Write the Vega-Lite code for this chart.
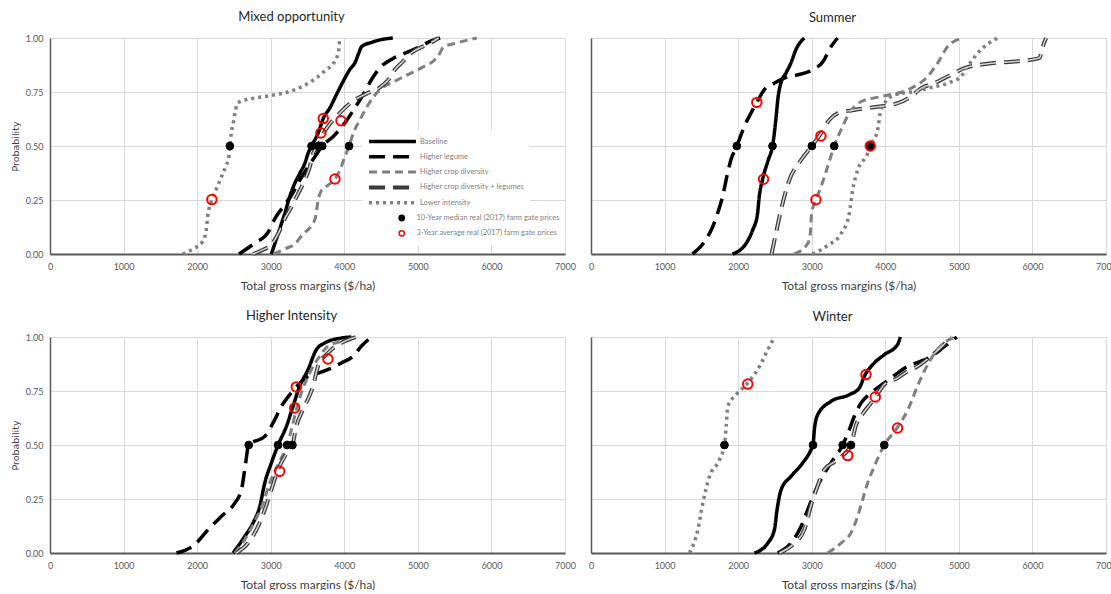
{
  "$schema": "https://vega.github.io/schema/vega-lite/v6.json",
  "background": "white",
  "padding": {"left": 10, "top": 11, "right": 0, "bottom": 0},
  "datasets": {
    "rows": [
      {"system":"Mixed opportunity","kind":"curve","series":"Baseline","gm":3009,"p":0},
      {"system":"Mixed opportunity","kind":"curve","series":"Baseline","gm":3055,"p":0.047},
      {"system":"Mixed opportunity","kind":"curve","series":"Baseline","gm":3100,"p":0.093},
      {"system":"Mixed opportunity","kind":"curve","series":"Baseline","gm":3145,"p":0.14},
      {"system":"Mixed opportunity","kind":"curve","series":"Baseline","gm":3191,"p":0.187},
      {"system":"Mixed opportunity","kind":"curve","series":"Baseline","gm":3236,"p":0.24},
      {"system":"Mixed opportunity","kind":"curve","series":"Baseline","gm":3273,"p":0.28},
      {"system":"Mixed opportunity","kind":"curve","series":"Baseline","gm":3327,"p":0.327},
      {"system":"Mixed opportunity","kind":"curve","series":"Baseline","gm":3395,"p":0.373},
      {"system":"Mixed opportunity","kind":"curve","series":"Baseline","gm":3464,"p":0.42},
      {"system":"Mixed opportunity","kind":"curve","series":"Baseline","gm":3509,"p":0.467},
      {"system":"Mixed opportunity","kind":"curve","series":"Baseline","gm":3555,"p":0.5},
      {"system":"Mixed opportunity","kind":"curve","series":"Baseline","gm":3645,"p":0.56},
      {"system":"Mixed opportunity","kind":"curve","series":"Baseline","gm":3714,"p":0.627},
      {"system":"Mixed opportunity","kind":"curve","series":"Baseline","gm":3805,"p":0.677},
      {"system":"Mixed opportunity","kind":"curve","series":"Baseline","gm":3895,"p":0.739},
      {"system":"Mixed opportunity","kind":"curve","series":"Baseline","gm":3986,"p":0.8},
      {"system":"Mixed opportunity","kind":"curve","series":"Baseline","gm":4077,"p":0.855},
      {"system":"Mixed opportunity","kind":"curve","series":"Baseline","gm":4145,"p":0.886},
      {"system":"Mixed opportunity","kind":"curve","series":"Baseline","gm":4191,"p":0.925},
      {"system":"Mixed opportunity","kind":"curve","series":"Baseline","gm":4236,"p":0.96},
      {"system":"Mixed opportunity","kind":"curve","series":"Baseline","gm":4373,"p":0.98},
      {"system":"Mixed opportunity","kind":"curve","series":"Baseline","gm":4509,"p":0.993},
      {"system":"Mixed opportunity","kind":"curve","series":"Baseline","gm":4660,"p":1},
      {"system":"Mixed opportunity","kind":"curve","series":"Higher legume","gm":2570,"p":0},
      {"system":"Mixed opportunity","kind":"curve","series":"Higher legume","gm":2782,"p":0.05},
      {"system":"Mixed opportunity","kind":"curve","series":"Higher legume","gm":2964,"p":0.1},
      {"system":"Mixed opportunity","kind":"curve","series":"Higher legume","gm":3055,"p":0.163},
      {"system":"Mixed opportunity","kind":"curve","series":"Higher legume","gm":3168,"p":0.218},
      {"system":"Mixed opportunity","kind":"curve","series":"Higher legume","gm":3282,"p":0.272},
      {"system":"Mixed opportunity","kind":"curve","series":"Higher legume","gm":3395,"p":0.342},
      {"system":"Mixed opportunity","kind":"curve","series":"Higher legume","gm":3509,"p":0.404},
      {"system":"Mixed opportunity","kind":"curve","series":"Higher legume","gm":3600,"p":0.45},
      {"system":"Mixed opportunity","kind":"curve","series":"Higher legume","gm":3700,"p":0.5},
      {"system":"Mixed opportunity","kind":"curve","series":"Higher legume","gm":3850,"p":0.544},
      {"system":"Mixed opportunity","kind":"curve","series":"Higher legume","gm":4009,"p":0.607},
      {"system":"Mixed opportunity","kind":"curve","series":"Higher legume","gm":4145,"p":0.677},
      {"system":"Mixed opportunity","kind":"curve","series":"Higher legume","gm":4259,"p":0.739},
      {"system":"Mixed opportunity","kind":"curve","series":"Higher legume","gm":4373,"p":0.809},
      {"system":"Mixed opportunity","kind":"curve","series":"Higher legume","gm":4486,"p":0.863},
      {"system":"Mixed opportunity","kind":"curve","series":"Higher legume","gm":4645,"p":0.902},
      {"system":"Mixed opportunity","kind":"curve","series":"Higher legume","gm":4827,"p":0.93},
      {"system":"Mixed opportunity","kind":"curve","series":"Higher legume","gm":5009,"p":0.956},
      {"system":"Mixed opportunity","kind":"curve","series":"Higher legume","gm":5191,"p":0.988},
      {"system":"Mixed opportunity","kind":"curve","series":"Higher legume","gm":5310,"p":1},
      {"system":"Mixed opportunity","kind":"curve","series":"Higher crop diversity","gm":3040,"p":0},
      {"system":"Mixed opportunity","kind":"curve","series":"Higher crop diversity","gm":3191,"p":0.023},
      {"system":"Mixed opportunity","kind":"curve","series":"Higher crop diversity","gm":3327,"p":0.047},
      {"system":"Mixed opportunity","kind":"curve","series":"Higher crop diversity","gm":3441,"p":0.093},
      {"system":"Mixed opportunity","kind":"curve","series":"Higher crop diversity","gm":3555,"p":0.132},
      {"system":"Mixed opportunity","kind":"curve","series":"Higher crop diversity","gm":3609,"p":0.171},
      {"system":"Mixed opportunity","kind":"curve","series":"Higher crop diversity","gm":3645,"p":0.249},
      {"system":"Mixed opportunity","kind":"curve","series":"Higher crop diversity","gm":3691,"p":0.295},
      {"system":"Mixed opportunity","kind":"curve","series":"Higher crop diversity","gm":3782,"p":0.319},
      {"system":"Mixed opportunity","kind":"curve","series":"Higher crop diversity","gm":3873,"p":0.347},
      {"system":"Mixed opportunity","kind":"curve","series":"Higher crop diversity","gm":3941,"p":0.389},
      {"system":"Mixed opportunity","kind":"curve","series":"Higher crop diversity","gm":4009,"p":0.451},
      {"system":"Mixed opportunity","kind":"curve","series":"Higher crop diversity","gm":4065,"p":0.5},
      {"system":"Mixed opportunity","kind":"curve","series":"Higher crop diversity","gm":4123,"p":0.56},
      {"system":"Mixed opportunity","kind":"curve","series":"Higher crop diversity","gm":4214,"p":0.622},
      {"system":"Mixed opportunity","kind":"curve","series":"Higher crop diversity","gm":4327,"p":0.692},
      {"system":"Mixed opportunity","kind":"curve","series":"Higher crop diversity","gm":4486,"p":0.762},
      {"system":"Mixed opportunity","kind":"curve","series":"Higher crop diversity","gm":4645,"p":0.793},
      {"system":"Mixed opportunity","kind":"curve","series":"Higher crop diversity","gm":4827,"p":0.824},
      {"system":"Mixed opportunity","kind":"curve","series":"Higher crop diversity","gm":5055,"p":0.863},
      {"system":"Mixed opportunity","kind":"curve","series":"Higher crop diversity","gm":5236,"p":0.902},
      {"system":"Mixed opportunity","kind":"curve","series":"Higher crop diversity","gm":5300,"p":0.93},
      {"system":"Mixed opportunity","kind":"curve","series":"Higher crop diversity","gm":5345,"p":0.957},
      {"system":"Mixed opportunity","kind":"curve","series":"Higher crop diversity","gm":5509,"p":0.975},
      {"system":"Mixed opportunity","kind":"curve","series":"Higher crop diversity","gm":5800,"p":1},
      {"system":"Mixed opportunity","kind":"curve","series":"Higher crop diversity + legumes","gm":2760,"p":0},
      {"system":"Mixed opportunity","kind":"curve","series":"Higher crop diversity + legumes","gm":2891,"p":0.019},
      {"system":"Mixed opportunity","kind":"curve","series":"Higher crop diversity + legumes","gm":3009,"p":0.044},
      {"system":"Mixed opportunity","kind":"curve","series":"Higher crop diversity + legumes","gm":3100,"p":0.093},
      {"system":"Mixed opportunity","kind":"curve","series":"Higher crop diversity + legumes","gm":3191,"p":0.163},
      {"system":"Mixed opportunity","kind":"curve","series":"Higher crop diversity + legumes","gm":3282,"p":0.218},
      {"system":"Mixed opportunity","kind":"curve","series":"Higher crop diversity + legumes","gm":3373,"p":0.28},
      {"system":"Mixed opportunity","kind":"curve","series":"Higher crop diversity + legumes","gm":3464,"p":0.342},
      {"system":"Mixed opportunity","kind":"curve","series":"Higher crop diversity + legumes","gm":3532,"p":0.404},
      {"system":"Mixed opportunity","kind":"curve","series":"Higher crop diversity + legumes","gm":3577,"p":0.467},
      {"system":"Mixed opportunity","kind":"curve","series":"Higher crop diversity + legumes","gm":3645,"p":0.5},
      {"system":"Mixed opportunity","kind":"curve","series":"Higher crop diversity + legumes","gm":3720,"p":0.56},
      {"system":"Mixed opportunity","kind":"curve","series":"Higher crop diversity + legumes","gm":3800,"p":0.6},
      {"system":"Mixed opportunity","kind":"curve","series":"Higher crop diversity + legumes","gm":3918,"p":0.645},
      {"system":"Mixed opportunity","kind":"curve","series":"Higher crop diversity + legumes","gm":4118,"p":0.708},
      {"system":"Mixed opportunity","kind":"curve","series":"Higher crop diversity + legumes","gm":4282,"p":0.739},
      {"system":"Mixed opportunity","kind":"curve","series":"Higher crop diversity + legumes","gm":4509,"p":0.778},
      {"system":"Mixed opportunity","kind":"curve","series":"Higher crop diversity + legumes","gm":4623,"p":0.817},
      {"system":"Mixed opportunity","kind":"curve","series":"Higher crop diversity + legumes","gm":4680,"p":0.85},
      {"system":"Mixed opportunity","kind":"curve","series":"Higher crop diversity + legumes","gm":4782,"p":0.886},
      {"system":"Mixed opportunity","kind":"curve","series":"Higher crop diversity + legumes","gm":4918,"p":0.933},
      {"system":"Mixed opportunity","kind":"curve","series":"Higher crop diversity + legumes","gm":5145,"p":0.972},
      {"system":"Mixed opportunity","kind":"curve","series":"Higher crop diversity + legumes","gm":5282,"p":1},
      {"system":"Mixed opportunity","kind":"curve","series":"Lower intensity","gm":1805,"p":0},
      {"system":"Mixed opportunity","kind":"curve","series":"Lower intensity","gm":1941,"p":0.023},
      {"system":"Mixed opportunity","kind":"curve","series":"Lower intensity","gm":2077,"p":0.059},
      {"system":"Mixed opportunity","kind":"curve","series":"Lower intensity","gm":2123,"p":0.109},
      {"system":"Mixed opportunity","kind":"curve","series":"Lower intensity","gm":2145,"p":0.179},
      {"system":"Mixed opportunity","kind":"curve","series":"Lower intensity","gm":2182,"p":0.233},
      {"system":"Mixed opportunity","kind":"curve","series":"Lower intensity","gm":2200,"p":0.25},
      {"system":"Mixed opportunity","kind":"curve","series":"Lower intensity","gm":2259,"p":0.299},
      {"system":"Mixed opportunity","kind":"curve","series":"Lower intensity","gm":2327,"p":0.355},
      {"system":"Mixed opportunity","kind":"curve","series":"Lower intensity","gm":2386,"p":0.404},
      {"system":"Mixed opportunity","kind":"curve","series":"Lower intensity","gm":2432,"p":0.451},
      {"system":"Mixed opportunity","kind":"curve","series":"Lower intensity","gm":2445,"p":0.5},
      {"system":"Mixed opportunity","kind":"curve","series":"Lower intensity","gm":2464,"p":0.56},
      {"system":"Mixed opportunity","kind":"curve","series":"Lower intensity","gm":2495,"p":0.614},
      {"system":"Mixed opportunity","kind":"curve","series":"Lower intensity","gm":2523,"p":0.669},
      {"system":"Mixed opportunity","kind":"curve","series":"Lower intensity","gm":2555,"p":0.7},
      {"system":"Mixed opportunity","kind":"curve","series":"Lower intensity","gm":2782,"p":0.722},
      {"system":"Mixed opportunity","kind":"curve","series":"Lower intensity","gm":3009,"p":0.734},
      {"system":"Mixed opportunity","kind":"curve","series":"Lower intensity","gm":3236,"p":0.75},
      {"system":"Mixed opportunity","kind":"curve","series":"Lower intensity","gm":3395,"p":0.77},
      {"system":"Mixed opportunity","kind":"curve","series":"Lower intensity","gm":3555,"p":0.8},
      {"system":"Mixed opportunity","kind":"curve","series":"Lower intensity","gm":3736,"p":0.848},
      {"system":"Mixed opportunity","kind":"curve","series":"Lower intensity","gm":3873,"p":0.894},
      {"system":"Mixed opportunity","kind":"curve","series":"Lower intensity","gm":3918,"p":0.933},
      {"system":"Mixed opportunity","kind":"curve","series":"Lower intensity","gm":3932,"p":0.972},
      {"system":"Mixed opportunity","kind":"curve","series":"Lower intensity","gm":3935,"p":1},
      {"system":"Mixed opportunity","kind":"median","series":"Baseline","gm":3555,"p":0.5},
      {"system":"Mixed opportunity","kind":"median","series":"Higher legume","gm":3700,"p":0.5},
      {"system":"Mixed opportunity","kind":"median","series":"Higher crop diversity","gm":4065,"p":0.5},
      {"system":"Mixed opportunity","kind":"median","series":"Higher crop diversity + legumes","gm":3645,"p":0.5},
      {"system":"Mixed opportunity","kind":"median","series":"Lower intensity","gm":2445,"p":0.5},
      {"system":"Mixed opportunity","kind":"average","series":"Baseline","gm":3714,"p":0.627},
      {"system":"Mixed opportunity","kind":"average","series":"Higher legume","gm":3955,"p":0.617},
      {"system":"Mixed opportunity","kind":"average","series":"Higher crop diversity","gm":3873,"p":0.347},
      {"system":"Mixed opportunity","kind":"average","series":"Higher crop diversity + legumes","gm":3682,"p":0.56},
      {"system":"Mixed opportunity","kind":"average","series":"Lower intensity","gm":2200,"p":0.252},

      {"system":"Summer","kind":"curve","series":"Higher legume","gm":1379,"p":0},
      {"system":"Summer","kind":"curve","series":"Higher legume","gm":1537,"p":0.054},
      {"system":"Summer","kind":"curve","series":"Higher legume","gm":1651,"p":0.124},
      {"system":"Summer","kind":"curve","series":"Higher legume","gm":1719,"p":0.186},
      {"system":"Summer","kind":"curve","series":"Higher legume","gm":1787,"p":0.264},
      {"system":"Summer","kind":"curve","series":"Higher legume","gm":1855,"p":0.372},
      {"system":"Summer","kind":"curve","series":"Higher legume","gm":1900,"p":0.434},
      {"system":"Summer","kind":"curve","series":"Higher legume","gm":1982,"p":0.5},
      {"system":"Summer","kind":"curve","series":"Higher legume","gm":2082,"p":0.589},
      {"system":"Summer","kind":"curve","series":"Higher legume","gm":2172,"p":0.651},
      {"system":"Summer","kind":"curve","series":"Higher legume","gm":2254,"p":0.702},
      {"system":"Summer","kind":"curve","series":"Higher legume","gm":2354,"p":0.76},
      {"system":"Summer","kind":"curve","series":"Higher legume","gm":2490,"p":0.791},
      {"system":"Summer","kind":"curve","series":"Higher legume","gm":2626,"p":0.814},
      {"system":"Summer","kind":"curve","series":"Higher legume","gm":2898,"p":0.837},
      {"system":"Summer","kind":"curve","series":"Higher legume","gm":3034,"p":0.856},
      {"system":"Summer","kind":"curve","series":"Higher legume","gm":3170,"p":0.899},
      {"system":"Summer","kind":"curve","series":"Higher legume","gm":3238,"p":0.946},
      {"system":"Summer","kind":"curve","series":"Higher legume","gm":3351,"p":1},
      {"system":"Summer","kind":"curve","series":"Baseline","gm":1923,"p":0},
      {"system":"Summer","kind":"curve","series":"Baseline","gm":2104,"p":0.047},
      {"system":"Summer","kind":"curve","series":"Baseline","gm":2195,"p":0.109},
      {"system":"Summer","kind":"curve","series":"Baseline","gm":2263,"p":0.186},
      {"system":"Summer","kind":"curve","series":"Baseline","gm":2286,"p":0.264},
      {"system":"Summer","kind":"curve","series":"Baseline","gm":2331,"p":0.344},
      {"system":"Summer","kind":"curve","series":"Baseline","gm":2408,"p":0.434},
      {"system":"Summer","kind":"curve","series":"Baseline","gm":2467,"p":0.5},
      {"system":"Summer","kind":"curve","series":"Baseline","gm":2512,"p":0.62},
      {"system":"Summer","kind":"curve","series":"Baseline","gm":2544,"p":0.729},
      {"system":"Summer","kind":"curve","series":"Baseline","gm":2580,"p":0.791},
      {"system":"Summer","kind":"curve","series":"Baseline","gm":2649,"p":0.837},
      {"system":"Summer","kind":"curve","series":"Baseline","gm":2717,"p":0.884},
      {"system":"Summer","kind":"curve","series":"Baseline","gm":2785,"p":0.946},
      {"system":"Summer","kind":"curve","series":"Baseline","gm":2898,"p":1},
      {"system":"Summer","kind":"curve","series":"Higher crop diversity + legumes","gm":2454,"p":0},
      {"system":"Summer","kind":"curve","series":"Higher crop diversity + legumes","gm":2512,"p":0.093},
      {"system":"Summer","kind":"curve","series":"Higher crop diversity + legumes","gm":2580,"p":0.2},
      {"system":"Summer","kind":"curve","series":"Higher crop diversity + legumes","gm":2694,"p":0.341},
      {"system":"Summer","kind":"curve","series":"Higher crop diversity + legumes","gm":2853,"p":0.434},
      {"system":"Summer","kind":"curve","series":"Higher crop diversity + legumes","gm":3002,"p":0.5},
      {"system":"Summer","kind":"curve","series":"Higher crop diversity + legumes","gm":3125,"p":0.558},
      {"system":"Summer","kind":"curve","series":"Higher crop diversity + legumes","gm":3238,"p":0.62},
      {"system":"Summer","kind":"curve","series":"Higher crop diversity + legumes","gm":3351,"p":0.651},
      {"system":"Summer","kind":"curve","series":"Higher crop diversity + legumes","gm":3578,"p":0.667},
      {"system":"Summer","kind":"curve","series":"Higher crop diversity + legumes","gm":3896,"p":0.682},
      {"system":"Summer","kind":"curve","series":"Higher crop diversity + legumes","gm":4168,"p":0.698},
      {"system":"Summer","kind":"curve","series":"Higher crop diversity + legumes","gm":4349,"p":0.729},
      {"system":"Summer","kind":"curve","series":"Higher crop diversity + legumes","gm":4485,"p":0.767},
      {"system":"Summer","kind":"curve","series":"Higher crop diversity + legumes","gm":4667,"p":0.791},
      {"system":"Summer","kind":"curve","series":"Higher crop diversity + legumes","gm":4848,"p":0.822},
      {"system":"Summer","kind":"curve","series":"Higher crop diversity + legumes","gm":5075,"p":0.86},
      {"system":"Summer","kind":"curve","series":"Higher crop diversity + legumes","gm":5392,"p":0.881},
      {"system":"Summer","kind":"curve","series":"Higher crop diversity + legumes","gm":5755,"p":0.891},
      {"system":"Summer","kind":"curve","series":"Higher crop diversity + legumes","gm":6095,"p":0.907},
      {"system":"Summer","kind":"curve","series":"Higher crop diversity + legumes","gm":6141,"p":0.961},
      {"system":"Summer","kind":"curve","series":"Higher crop diversity + legumes","gm":6186,"p":1},
      {"system":"Summer","kind":"curve","series":"Higher crop diversity","gm":2762,"p":0},
      {"system":"Summer","kind":"curve","series":"Higher crop diversity","gm":2943,"p":0.047},
      {"system":"Summer","kind":"curve","series":"Higher crop diversity","gm":2980,"p":0.093},
      {"system":"Summer","kind":"curve","series":"Higher crop diversity","gm":2998,"p":0.186},
      {"system":"Summer","kind":"curve","series":"Higher crop diversity","gm":3057,"p":0.25},
      {"system":"Summer","kind":"curve","series":"Higher crop diversity","gm":3125,"p":0.31},
      {"system":"Summer","kind":"curve","series":"Higher crop diversity","gm":3215,"p":0.403},
      {"system":"Summer","kind":"curve","series":"Higher crop diversity","gm":3306,"p":0.5},
      {"system":"Summer","kind":"curve","series":"Higher crop diversity","gm":3397,"p":0.574},
      {"system":"Summer","kind":"curve","series":"Higher crop diversity","gm":3510,"p":0.651},
      {"system":"Summer","kind":"curve","series":"Higher crop diversity","gm":3669,"p":0.705},
      {"system":"Summer","kind":"curve","series":"Higher crop diversity","gm":3941,"p":0.729},
      {"system":"Summer","kind":"curve","series":"Higher crop diversity","gm":4304,"p":0.76},
      {"system":"Summer","kind":"curve","series":"Higher crop diversity","gm":4576,"p":0.822},
      {"system":"Summer","kind":"curve","series":"Higher crop diversity","gm":4712,"p":0.884},
      {"system":"Summer","kind":"curve","series":"Higher crop diversity","gm":4848,"p":0.961},
      {"system":"Summer","kind":"curve","series":"Higher crop diversity","gm":5052,"p":1},
      {"system":"Summer","kind":"curve","series":"Lower intensity","gm":3011,"p":0},
      {"system":"Summer","kind":"curve","series":"Lower intensity","gm":3215,"p":0.039},
      {"system":"Summer","kind":"curve","series":"Lower intensity","gm":3397,"p":0.093},
      {"system":"Summer","kind":"curve","series":"Lower intensity","gm":3510,"p":0.186},
      {"system":"Summer","kind":"curve","series":"Lower intensity","gm":3556,"p":0.295},
      {"system":"Summer","kind":"curve","series":"Lower intensity","gm":3624,"p":0.388},
      {"system":"Summer","kind":"curve","series":"Lower intensity","gm":3760,"p":0.465},
      {"system":"Summer","kind":"curve","series":"Lower intensity","gm":3796,"p":0.5},
      {"system":"Summer","kind":"curve","series":"Lower intensity","gm":3896,"p":0.574},
      {"system":"Summer","kind":"curve","series":"Lower intensity","gm":3941,"p":0.667},
      {"system":"Summer","kind":"curve","series":"Lower intensity","gm":4122,"p":0.736},
      {"system":"Summer","kind":"curve","series":"Lower intensity","gm":4395,"p":0.752},
      {"system":"Summer","kind":"curve","series":"Lower intensity","gm":4576,"p":0.767},
      {"system":"Summer","kind":"curve","series":"Lower intensity","gm":4848,"p":0.791},
      {"system":"Summer","kind":"curve","series":"Lower intensity","gm":5029,"p":0.822},
      {"system":"Summer","kind":"curve","series":"Lower intensity","gm":5120,"p":0.868},
      {"system":"Summer","kind":"curve","series":"Lower intensity","gm":5256,"p":0.93},
      {"system":"Summer","kind":"curve","series":"Lower intensity","gm":5528,"p":1},
      {"system":"Summer","kind":"median","series":"Higher legume","gm":1982,"p":0.5},
      {"system":"Summer","kind":"median","series":"Baseline","gm":2467,"p":0.5},
      {"system":"Summer","kind":"median","series":"Higher crop diversity + legumes","gm":3002,"p":0.5},
      {"system":"Summer","kind":"median","series":"Higher crop diversity","gm":3306,"p":0.5},
      {"system":"Summer","kind":"median","series":"Lower intensity","gm":3796,"p":0.5},
      {"system":"Summer","kind":"average","series":"Higher legume","gm":2254,"p":0.702},
      {"system":"Summer","kind":"average","series":"Baseline","gm":2345,"p":0.346},
      {"system":"Summer","kind":"average","series":"Higher crop diversity + legumes","gm":3125,"p":0.546},
      {"system":"Summer","kind":"average","series":"Higher crop diversity","gm":3057,"p":0.251},
      {"system":"Summer","kind":"average","series":"Lower intensity","gm":3796,"p":0.5},

      {"system":"Higher Intensity","kind":"curve","series":"Higher legume","gm":1719,"p":0},
      {"system":"Higher Intensity","kind":"curve","series":"Higher legume","gm":1968,"p":0.039},
      {"system":"Higher Intensity","kind":"curve","series":"Higher legume","gm":2149,"p":0.108},
      {"system":"Higher Intensity","kind":"curve","series":"Higher legume","gm":2330,"p":0.17},
      {"system":"Higher Intensity","kind":"curve","series":"Higher legume","gm":2511,"p":0.231},
      {"system":"Higher Intensity","kind":"curve","series":"Higher legume","gm":2602,"p":0.293},
      {"system":"Higher Intensity","kind":"curve","series":"Higher legume","gm":2647,"p":0.386},
      {"system":"Higher Intensity","kind":"curve","series":"Higher legume","gm":2701,"p":0.5},
      {"system":"Higher Intensity","kind":"curve","series":"Higher legume","gm":2919,"p":0.54},
      {"system":"Higher Intensity","kind":"curve","series":"Higher legume","gm":3032,"p":0.602},
      {"system":"Higher Intensity","kind":"curve","series":"Higher legume","gm":3145,"p":0.679},
      {"system":"Higher Intensity","kind":"curve","series":"Higher legume","gm":3258,"p":0.733},
      {"system":"Higher Intensity","kind":"curve","series":"Higher legume","gm":3348,"p":0.769},
      {"system":"Higher Intensity","kind":"curve","series":"Higher legume","gm":3507,"p":0.818},
      {"system":"Higher Intensity","kind":"curve","series":"Higher legume","gm":3643,"p":0.833},
      {"system":"Higher Intensity","kind":"curve","series":"Higher legume","gm":3824,"p":0.856},
      {"system":"Higher Intensity","kind":"curve","series":"Higher legume","gm":3959,"p":0.88},
      {"system":"Higher Intensity","kind":"curve","series":"Higher legume","gm":4118,"p":0.91},
      {"system":"Higher Intensity","kind":"curve","series":"Higher legume","gm":4231,"p":0.957},
      {"system":"Higher Intensity","kind":"curve","series":"Higher legume","gm":4367,"p":1},
      {"system":"Higher Intensity","kind":"curve","series":"Baseline","gm":2489,"p":0},
      {"system":"Higher Intensity","kind":"curve","series":"Baseline","gm":2647,"p":0.077},
      {"system":"Higher Intensity","kind":"curve","series":"Baseline","gm":2760,"p":0.139},
      {"system":"Higher Intensity","kind":"curve","series":"Baseline","gm":2851,"p":0.216},
      {"system":"Higher Intensity","kind":"curve","series":"Baseline","gm":2919,"p":0.324},
      {"system":"Higher Intensity","kind":"curve","series":"Baseline","gm":3009,"p":0.417},
      {"system":"Higher Intensity","kind":"curve","series":"Baseline","gm":3100,"p":0.5},
      {"system":"Higher Intensity","kind":"curve","series":"Baseline","gm":3213,"p":0.586},
      {"system":"Higher Intensity","kind":"curve","series":"Baseline","gm":3303,"p":0.679},
      {"system":"Higher Intensity","kind":"curve","series":"Baseline","gm":3394,"p":0.772},
      {"system":"Higher Intensity","kind":"curve","series":"Baseline","gm":3507,"p":0.849},
      {"system":"Higher Intensity","kind":"curve","series":"Baseline","gm":3620,"p":0.941},
      {"system":"Higher Intensity","kind":"curve","series":"Baseline","gm":3733,"p":0.972},
      {"system":"Higher Intensity","kind":"curve","series":"Baseline","gm":3959,"p":0.995},
      {"system":"Higher Intensity","kind":"curve","series":"Baseline","gm":4095,"p":1},
      {"system":"Higher Intensity","kind":"curve","series":"Higher crop diversity","gm":2511,"p":0},
      {"system":"Higher Intensity","kind":"curve","series":"Higher crop diversity","gm":2647,"p":0.062},
      {"system":"Higher Intensity","kind":"curve","series":"Higher crop diversity","gm":2783,"p":0.147},
      {"system":"Higher Intensity","kind":"curve","series":"Higher crop diversity","gm":2896,"p":0.231},
      {"system":"Higher Intensity","kind":"curve","series":"Higher crop diversity","gm":2986,"p":0.324},
      {"system":"Higher Intensity","kind":"curve","series":"Higher crop diversity","gm":3110,"p":0.417},
      {"system":"Higher Intensity","kind":"curve","series":"Higher crop diversity","gm":3223,"p":0.5},
      {"system":"Higher Intensity","kind":"curve","series":"Higher crop diversity","gm":3281,"p":0.571},
      {"system":"Higher Intensity","kind":"curve","series":"Higher crop diversity","gm":3348,"p":0.664},
      {"system":"Higher Intensity","kind":"curve","series":"Higher crop diversity","gm":3416,"p":0.741},
      {"system":"Higher Intensity","kind":"curve","series":"Higher crop diversity","gm":3529,"p":0.833},
      {"system":"Higher Intensity","kind":"curve","series":"Higher crop diversity","gm":3665,"p":0.91},
      {"system":"Higher Intensity","kind":"curve","series":"Higher crop diversity","gm":3778,"p":0.957},
      {"system":"Higher Intensity","kind":"curve","series":"Higher crop diversity","gm":4050,"p":0.988},
      {"system":"Higher Intensity","kind":"curve","series":"Higher crop diversity","gm":4140,"p":1},
      {"system":"Higher Intensity","kind":"curve","series":"Higher crop diversity + legumes","gm":2534,"p":0},
      {"system":"Higher Intensity","kind":"curve","series":"Higher crop diversity + legumes","gm":2692,"p":0.046},
      {"system":"Higher Intensity","kind":"curve","series":"Higher crop diversity + legumes","gm":2828,"p":0.123},
      {"system":"Higher Intensity","kind":"curve","series":"Higher crop diversity + legumes","gm":2919,"p":0.2},
      {"system":"Higher Intensity","kind":"curve","series":"Higher crop diversity + legumes","gm":3009,"p":0.293},
      {"system":"Higher Intensity","kind":"curve","series":"Higher crop diversity + legumes","gm":3100,"p":0.386},
      {"system":"Higher Intensity","kind":"curve","series":"Higher crop diversity + legumes","gm":3213,"p":0.46},
      {"system":"Higher Intensity","kind":"curve","series":"Higher crop diversity + legumes","gm":3295,"p":0.5},
      {"system":"Higher Intensity","kind":"curve","series":"Higher crop diversity + legumes","gm":3348,"p":0.586},
      {"system":"Higher Intensity","kind":"curve","series":"Higher crop diversity + legumes","gm":3439,"p":0.664},
      {"system":"Higher Intensity","kind":"curve","series":"Higher crop diversity + legumes","gm":3575,"p":0.772},
      {"system":"Higher Intensity","kind":"curve","series":"Higher crop diversity + legumes","gm":3643,"p":0.864},
      {"system":"Higher Intensity","kind":"curve","series":"Higher crop diversity + legumes","gm":3778,"p":0.926},
      {"system":"Higher Intensity","kind":"curve","series":"Higher crop diversity + legumes","gm":3959,"p":0.972},
      {"system":"Higher Intensity","kind":"curve","series":"Higher crop diversity + legumes","gm":4160,"p":1},
      {"system":"Higher Intensity","kind":"median","series":"Higher legume","gm":2701,"p":0.5},
      {"system":"Higher Intensity","kind":"median","series":"Baseline","gm":3100,"p":0.5},
      {"system":"Higher Intensity","kind":"median","series":"Higher crop diversity","gm":3223,"p":0.5},
      {"system":"Higher Intensity","kind":"median","series":"Higher crop diversity + legumes","gm":3295,"p":0.5},
      {"system":"Higher Intensity","kind":"average","series":"Higher legume","gm":3348,"p":0.769},
      {"system":"Higher Intensity","kind":"average","series":"Baseline","gm":3326,"p":0.671},
      {"system":"Higher Intensity","kind":"average","series":"Higher crop diversity","gm":3122,"p":0.378},
      {"system":"Higher Intensity","kind":"average","series":"Higher crop diversity + legumes","gm":3778,"p":0.898},

      {"system":"Winter","kind":"curve","series":"Lower intensity","gm":1339,"p":0},
      {"system":"Winter","kind":"curve","series":"Lower intensity","gm":1452,"p":0.108},
      {"system":"Winter","kind":"curve","series":"Lower intensity","gm":1520,"p":0.231},
      {"system":"Winter","kind":"curve","series":"Lower intensity","gm":1611,"p":0.355},
      {"system":"Winter","kind":"curve","series":"Lower intensity","gm":1747,"p":0.432},
      {"system":"Winter","kind":"curve","series":"Lower intensity","gm":1814,"p":0.5},
      {"system":"Winter","kind":"curve","series":"Lower intensity","gm":1837,"p":0.586},
      {"system":"Winter","kind":"curve","series":"Lower intensity","gm":1860,"p":0.679},
      {"system":"Winter","kind":"curve","series":"Lower intensity","gm":1973,"p":0.733},
      {"system":"Winter","kind":"curve","series":"Lower intensity","gm":2131,"p":0.787},
      {"system":"Winter","kind":"curve","series":"Lower intensity","gm":2290,"p":0.864},
      {"system":"Winter","kind":"curve","series":"Lower intensity","gm":2403,"p":0.941},
      {"system":"Winter","kind":"curve","series":"Lower intensity","gm":2493,"p":1},
      {"system":"Winter","kind":"curve","series":"Baseline","gm":2222,"p":0},
      {"system":"Winter","kind":"curve","series":"Baseline","gm":2403,"p":0.046},
      {"system":"Winter","kind":"curve","series":"Baseline","gm":2493,"p":0.108},
      {"system":"Winter","kind":"curve","series":"Baseline","gm":2529,"p":0.2},
      {"system":"Winter","kind":"curve","series":"Baseline","gm":2584,"p":0.293},
      {"system":"Winter","kind":"curve","series":"Baseline","gm":2719,"p":0.355},
      {"system":"Winter","kind":"curve","series":"Baseline","gm":2878,"p":0.417},
      {"system":"Winter","kind":"curve","series":"Baseline","gm":2991,"p":0.478},
      {"system":"Winter","kind":"curve","series":"Baseline","gm":3018,"p":0.5},
      {"system":"Winter","kind":"curve","series":"Baseline","gm":3036,"p":0.571},
      {"system":"Winter","kind":"curve","series":"Baseline","gm":3081,"p":0.64},
      {"system":"Winter","kind":"curve","series":"Baseline","gm":3262,"p":0.702},
      {"system":"Winter","kind":"curve","series":"Baseline","gm":3511,"p":0.733},
      {"system":"Winter","kind":"curve","series":"Baseline","gm":3647,"p":0.764},
      {"system":"Winter","kind":"curve","series":"Baseline","gm":3715,"p":0.818},
      {"system":"Winter","kind":"curve","series":"Baseline","gm":3851,"p":0.88},
      {"system":"Winter","kind":"curve","series":"Baseline","gm":3986,"p":0.918},
      {"system":"Winter","kind":"curve","series":"Baseline","gm":4167,"p":0.965},
      {"system":"Winter","kind":"curve","series":"Baseline","gm":4204,"p":1},
      {"system":"Winter","kind":"curve","series":"Higher legume","gm":2538,"p":0},
      {"system":"Winter","kind":"curve","series":"Higher legume","gm":2719,"p":0.046},
      {"system":"Winter","kind":"curve","series":"Higher legume","gm":2855,"p":0.123},
      {"system":"Winter","kind":"curve","series":"Higher legume","gm":2946,"p":0.2},
      {"system":"Winter","kind":"curve","series":"Higher legume","gm":3036,"p":0.278},
      {"system":"Winter","kind":"curve","series":"Higher legume","gm":3149,"p":0.355},
      {"system":"Winter","kind":"curve","series":"Higher legume","gm":3262,"p":0.417},
      {"system":"Winter","kind":"curve","series":"Higher legume","gm":3421,"p":0.5},
      {"system":"Winter","kind":"curve","series":"Higher legume","gm":3511,"p":0.571},
      {"system":"Winter","kind":"curve","series":"Higher legume","gm":3579,"p":0.633},
      {"system":"Winter","kind":"curve","series":"Higher legume","gm":3670,"p":0.694},
      {"system":"Winter","kind":"curve","series":"Higher legume","gm":3805,"p":0.741},
      {"system":"Winter","kind":"curve","series":"Higher legume","gm":3986,"p":0.787},
      {"system":"Winter","kind":"curve","series":"Higher legume","gm":4167,"p":0.833},
      {"system":"Winter","kind":"curve","series":"Higher legume","gm":4303,"p":0.864},
      {"system":"Winter","kind":"curve","series":"Higher legume","gm":4460,"p":0.885},
      {"system":"Winter","kind":"curve","series":"Higher legume","gm":4600,"p":0.905},
      {"system":"Winter","kind":"curve","series":"Higher legume","gm":4800,"p":0.955},
      {"system":"Winter","kind":"curve","series":"Higher legume","gm":4970,"p":1},
      {"system":"Winter","kind":"curve","series":"Higher crop diversity + legumes","gm":2561,"p":0},
      {"system":"Winter","kind":"curve","series":"Higher crop diversity + legumes","gm":2765,"p":0.046},
      {"system":"Winter","kind":"curve","series":"Higher crop diversity + legumes","gm":2900,"p":0.108},
      {"system":"Winter","kind":"curve","series":"Higher crop diversity + legumes","gm":2990,"p":0.22},
      {"system":"Winter","kind":"curve","series":"Higher crop diversity + legumes","gm":3080,"p":0.31},
      {"system":"Winter","kind":"curve","series":"Higher crop diversity + legumes","gm":3172,"p":0.386},
      {"system":"Winter","kind":"curve","series":"Higher crop diversity + legumes","gm":3300,"p":0.42},
      {"system":"Winter","kind":"curve","series":"Higher crop diversity + legumes","gm":3400,"p":0.445},
      {"system":"Winter","kind":"curve","series":"Higher crop diversity + legumes","gm":3534,"p":0.5},
      {"system":"Winter","kind":"curve","series":"Higher crop diversity + legumes","gm":3600,"p":0.59},
      {"system":"Winter","kind":"curve","series":"Higher crop diversity + legumes","gm":3700,"p":0.648},
      {"system":"Winter","kind":"curve","series":"Higher crop diversity + legumes","gm":3805,"p":0.694},
      {"system":"Winter","kind":"curve","series":"Higher crop diversity + legumes","gm":3900,"p":0.74},
      {"system":"Winter","kind":"curve","series":"Higher crop diversity + legumes","gm":3986,"p":0.78},
      {"system":"Winter","kind":"curve","series":"Higher crop diversity + legumes","gm":4167,"p":0.81},
      {"system":"Winter","kind":"curve","series":"Higher crop diversity + legumes","gm":4303,"p":0.841},
      {"system":"Winter","kind":"curve","series":"Higher crop diversity + legumes","gm":4439,"p":0.864},
      {"system":"Winter","kind":"curve","series":"Higher crop diversity + legumes","gm":4600,"p":0.905},
      {"system":"Winter","kind":"curve","series":"Higher crop diversity + legumes","gm":4780,"p":0.96},
      {"system":"Winter","kind":"curve","series":"Higher crop diversity + legumes","gm":4900,"p":1},
      {"system":"Winter","kind":"curve","series":"Higher crop diversity","gm":3217,"p":0},
      {"system":"Winter","kind":"curve","series":"Higher crop diversity","gm":3398,"p":0.046},
      {"system":"Winter","kind":"curve","series":"Higher crop diversity","gm":3534,"p":0.093},
      {"system":"Winter","kind":"curve","series":"Higher crop diversity","gm":3624,"p":0.17},
      {"system":"Winter","kind":"curve","series":"Higher crop diversity","gm":3692,"p":0.247},
      {"system":"Winter","kind":"curve","series":"Higher crop diversity","gm":3760,"p":0.324},
      {"system":"Winter","kind":"curve","series":"Higher crop diversity","gm":3851,"p":0.401},
      {"system":"Winter","kind":"curve","series":"Higher crop diversity","gm":3986,"p":0.5},
      {"system":"Winter","kind":"curve","series":"Higher crop diversity","gm":4163,"p":0.58},
      {"system":"Winter","kind":"curve","series":"Higher crop diversity","gm":4307,"p":0.663},
      {"system":"Winter","kind":"curve","series":"Higher crop diversity","gm":4455,"p":0.787},
      {"system":"Winter","kind":"curve","series":"Higher crop diversity","gm":4600,"p":0.887},
      {"system":"Winter","kind":"curve","series":"Higher crop diversity","gm":4794,"p":0.972},
      {"system":"Winter","kind":"curve","series":"Higher crop diversity","gm":4963,"p":1},
      {"system":"Winter","kind":"median","series":"Lower intensity","gm":1814,"p":0.5},
      {"system":"Winter","kind":"median","series":"Baseline","gm":3018,"p":0.5},
      {"system":"Winter","kind":"median","series":"Higher legume","gm":3421,"p":0.5},
      {"system":"Winter","kind":"median","series":"Higher crop diversity + legumes","gm":3534,"p":0.5},
      {"system":"Winter","kind":"median","series":"Higher crop diversity","gm":3986,"p":0.5},
      {"system":"Winter","kind":"average","series":"Lower intensity","gm":2131,"p":0.782},
      {"system":"Winter","kind":"average","series":"Baseline","gm":3738,"p":0.826},
      {"system":"Winter","kind":"average","series":"Higher legume","gm":3864,"p":0.722},
      {"system":"Winter","kind":"average","series":"Higher crop diversity + legumes","gm":3489,"p":0.451},
      {"system":"Winter","kind":"average","series":"Higher crop diversity","gm":4167,"p":0.579}
    ]
  },
  "columns": 2,
  "spacing": {"row": 83, "column": 26},
  "bounds": "flush",
  "resolve": {
    "scale": {"color": "independent", "strokeDash": "independent", "strokeWidth": "independent", "fill": "independent", "stroke": "independent"},
    "legend": {"color": "independent", "strokeDash": "independent", "strokeWidth": "independent", "fill": "independent", "stroke": "independent"}
  },
  "concat": [
    {
      "title": "Mixed opportunity",
      "width": 515, "height": 216,
      "data": {"name": "rows"},
      "transform": [{"filter": {"field": "system", "equal": "Mixed opportunity"}}],
      "encoding": {
        "x": {"field": "gm", "type": "quantitative", "scale": {"domain": [0, 7000], "nice": false}, "axis": {"values": [0,1000,2000,3000,4000,5000,6000,7000], "format": "d", "title": "Total gross margins ($/ha)"}},
        "y": {"field": "p", "type": "quantitative", "scale": {"domain": [0, 1], "nice": false}, "axis": {"values": [0,0.25,0.5,0.75,1], "format": ".2f", "title": "Probability"}}
      },
      "layer": [
        {
          "transform": [{"filter": "datum.kind === 'curve'"}],
          "mark": {"type": "line", "interpolate": "monotone", "strokeJoin": "round"},
          "encoding": {
            "order": {"field": "p"},
            "color": {"field": "series", "type": "nominal",
              "scale": {"domain": ["Baseline","Higher legume","Higher crop diversity","Higher crop diversity + legumes","Lower intensity"],
                        "range": ["#000000","#000000","#7f7f7f","#3a3a3a","#7f7f7f"]},
              "legend": {
                "orient": "none", "legendX": 312, "legendY": 92, "title": null,
                "fillColor": "#ffffff", "padding": 5,
                "symbolType": "stroke", "symbolSize": 2200,
                "labelFont": "Lato", "labelFontSize": 7.5, "labelColor": "#7f7f7f", "labelLimit": 300, "labelOffset": 2,
                "clipHeight": 13, "rowPadding": 2.3
              }},
            "strokeDash": {"field": "series", "type": "nominal",
              "scale": {"domain": ["Baseline","Higher legume","Higher crop diversity","Higher crop diversity + legumes","Lower intensity"],
                        "range": [[1,0],[16,8],[8,5],[16,8],[3,4]]}},
            "strokeWidth": {"field": "series", "type": "nominal",
              "scale": {"type": "ordinal", "domain": ["Baseline","Higher legume","Higher crop diversity","Higher crop diversity + legumes","Lower intensity"],
                        "range": [3.5,3.5,3,4,3.5]}}
          }
        },
        {
          "transform": [{"filter": "datum.kind === 'curve' && datum.series === 'Higher crop diversity + legumes'"}],
          "mark": {"type": "line", "interpolate": "monotone", "color": "#d4d4d4", "strokeWidth": 1.5, "strokeDash": [16, 8]},
          "encoding": {"order": {"field": "p"}}
        },
        {
          "transform": [{"filter": "datum.kind === 'median'"}],
          "mark": {"type": "point", "shape": "circle", "filled": true, "size": 60, "strokeWidth": 1, "opacity": 1},
          "encoding": {
            "fill": {"field": "kind", "type": "nominal", "scale": {"domain": ["median","average"], "range": ["#000000","transparent"]},
              "legend": {
                "orient": "none", "legendX": 312, "legendY": 168.5, "title": null,
                "fillColor": "#ffffff", "padding": 5,
                "symbolType": "circle", "symbolSize": 28, "symbolStrokeWidth": 1.5, "symbolOffset": 31,
                "labelFont": "Lato", "labelFontSize": 7.5, "labelColor": "#7f7f7f", "labelLimit": 300, "labelOffset": 11,
                "clipHeight": 13, "rowPadding": 2.3,
                "labelExpr": "datum.label === 'median' ? '10-Year median real (2017) farm gate prices' : '3-Year average real (2017) farm gate prices'"
              }},
            "stroke": {"field": "kind", "type": "nominal", "scale": {"domain": ["median","average"], "range": ["#000000","#ff0000"]}}
          }
        },
        {
          "transform": [{"filter": "datum.kind === 'average'"}],
          "mark": {"type": "point", "shape": "circle", "filled": true, "size": 90, "strokeWidth": 2, "opacity": 1},
          "encoding": {
            "fill": {"field": "kind", "type": "nominal", "scale": {"domain": ["median","average"], "range": ["#000000","transparent"]}},
            "stroke": {"field": "kind", "type": "nominal", "scale": {"domain": ["median","average"], "range": ["#000000","#ff0000"]}}
          }
        }
      ]
    },
    {
      "title": "Summer",
      "width": 515, "height": 216,
      "data": {"name": "rows"},
      "transform": [{"filter": {"field": "system", "equal": "Summer"}}],
      "encoding": {
        "x": {"field": "gm", "type": "quantitative", "scale": {"domain": [0, 7000], "nice": false}, "axis": {"values": [0,1000,2000,3000,4000,5000,6000,7000], "format": "d", "title": "Total gross margins ($/ha)"}},
        "y": {"field": "p", "type": "quantitative", "scale": {"domain": [0, 1], "nice": false}, "axis": {"values": [0,0.25,0.5,0.75,1], "labels": false, "title": null}}
      },
      "layer": [
        {
          "transform": [{"filter": "datum.kind === 'curve'"}],
          "mark": {"type": "line", "interpolate": "monotone", "strokeJoin": "round"},
          "encoding": {
            "order": {"field": "p"},
            "color": {"field": "series", "type": "nominal", "legend": null,
              "scale": {"domain": ["Baseline","Higher legume","Higher crop diversity","Higher crop diversity + legumes","Lower intensity"],
                        "range": ["#000000","#000000","#7f7f7f","#3a3a3a","#7f7f7f"]}},
            "strokeDash": {"field": "series", "type": "nominal", "legend": null,
              "scale": {"domain": ["Baseline","Higher legume","Higher crop diversity","Higher crop diversity + legumes","Lower intensity"],
                        "range": [[1,0],[16,8],[8,5],[16,8],[3,4]]}},
            "strokeWidth": {"field": "series", "type": "nominal", "legend": null,
              "scale": {"type": "ordinal", "domain": ["Baseline","Higher legume","Higher crop diversity","Higher crop diversity + legumes","Lower intensity"],
                        "range": [3.5,3.5,3,4,3.5]}}
          }
        },
        {
          "transform": [{"filter": "datum.kind === 'curve' && datum.series === 'Higher crop diversity + legumes'"}],
          "mark": {"type": "line", "interpolate": "monotone", "color": "#d4d4d4", "strokeWidth": 1.5, "strokeDash": [16, 8]},
          "encoding": {"order": {"field": "p"}}
        },
        {
          "transform": [{"filter": "datum.kind === 'median'"}],
          "mark": {"type": "point", "shape": "circle", "filled": true, "size": 60, "strokeWidth": 1, "opacity": 1},
          "encoding": {
            "fill": {"field": "kind", "type": "nominal", "legend": null, "scale": {"domain": ["median","average"], "range": ["#000000","transparent"]}},
            "stroke": {"field": "kind", "type": "nominal", "legend": null, "scale": {"domain": ["median","average"], "range": ["#000000","#ff0000"]}}
          }
        },
        {
          "transform": [{"filter": "datum.kind === 'average'"}],
          "mark": {"type": "point", "shape": "circle", "filled": true, "size": 90, "strokeWidth": 2, "opacity": 1},
          "encoding": {
            "fill": {"field": "kind", "type": "nominal", "legend": null, "scale": {"domain": ["median","average"], "range": ["#000000","transparent"]}},
            "stroke": {"field": "kind", "type": "nominal", "legend": null, "scale": {"domain": ["median","average"], "range": ["#000000","#ff0000"]}}
          }
        }
      ]
    },
    {
      "title": "Higher Intensity",
      "width": 515, "height": 216,
      "data": {"name": "rows"},
      "transform": [{"filter": {"field": "system", "equal": "Higher Intensity"}}],
      "encoding": {
        "x": {"field": "gm", "type": "quantitative", "scale": {"domain": [0, 7000], "nice": false}, "axis": {"values": [0,1000,2000,3000,4000,5000,6000,7000], "format": "d", "title": "Total gross margins ($/ha)"}},
        "y": {"field": "p", "type": "quantitative", "scale": {"domain": [0, 1], "nice": false}, "axis": {"values": [0,0.25,0.5,0.75,1], "format": ".2f", "title": "Probability"}}
      },
      "layer": [
        {
          "transform": [{"filter": "datum.kind === 'curve'"}],
          "mark": {"type": "line", "interpolate": "monotone", "strokeJoin": "round"},
          "encoding": {
            "order": {"field": "p"},
            "color": {"field": "series", "type": "nominal", "legend": null,
              "scale": {"domain": ["Baseline","Higher legume","Higher crop diversity","Higher crop diversity + legumes","Lower intensity"],
                        "range": ["#000000","#000000","#7f7f7f","#3a3a3a","#7f7f7f"]}},
            "strokeDash": {"field": "series", "type": "nominal", "legend": null,
              "scale": {"domain": ["Baseline","Higher legume","Higher crop diversity","Higher crop diversity + legumes","Lower intensity"],
                        "range": [[1,0],[16,8],[8,5],[16,8],[3,4]]}},
            "strokeWidth": {"field": "series", "type": "nominal", "legend": null,
              "scale": {"type": "ordinal", "domain": ["Baseline","Higher legume","Higher crop diversity","Higher crop diversity + legumes","Lower intensity"],
                        "range": [3.5,3.5,3,4,3.5]}}
          }
        },
        {
          "transform": [{"filter": "datum.kind === 'curve' && datum.series === 'Higher crop diversity + legumes'"}],
          "mark": {"type": "line", "interpolate": "monotone", "color": "#d4d4d4", "strokeWidth": 1.5, "strokeDash": [16, 8]},
          "encoding": {"order": {"field": "p"}}
        },
        {
          "transform": [{"filter": "datum.kind === 'median'"}],
          "mark": {"type": "point", "shape": "circle", "filled": true, "size": 60, "strokeWidth": 1, "opacity": 1},
          "encoding": {
            "fill": {"field": "kind", "type": "nominal", "legend": null, "scale": {"domain": ["median","average"], "range": ["#000000","transparent"]}},
            "stroke": {"field": "kind", "type": "nominal", "legend": null, "scale": {"domain": ["median","average"], "range": ["#000000","#ff0000"]}}
          }
        },
        {
          "transform": [{"filter": "datum.kind === 'average'"}],
          "mark": {"type": "point", "shape": "circle", "filled": true, "size": 90, "strokeWidth": 2, "opacity": 1},
          "encoding": {
            "fill": {"field": "kind", "type": "nominal", "legend": null, "scale": {"domain": ["median","average"], "range": ["#000000","transparent"]}},
            "stroke": {"field": "kind", "type": "nominal", "legend": null, "scale": {"domain": ["median","average"], "range": ["#000000","#ff0000"]}}
          }
        }
      ]
    },
    {
      "title": "Winter",
      "width": 515, "height": 216,
      "data": {"name": "rows"},
      "transform": [{"filter": {"field": "system", "equal": "Winter"}}],
      "encoding": {
        "x": {"field": "gm", "type": "quantitative", "scale": {"domain": [0, 7000], "nice": false}, "axis": {"values": [0,1000,2000,3000,4000,5000,6000,7000], "format": "d", "title": "Total gross margins ($/ha)"}},
        "y": {"field": "p", "type": "quantitative", "scale": {"domain": [0, 1], "nice": false}, "axis": {"values": [0,0.25,0.5,0.75,1], "labels": false, "title": null}}
      },
      "layer": [
        {
          "transform": [{"filter": "datum.kind === 'curve'"}],
          "mark": {"type": "line", "interpolate": "monotone", "strokeJoin": "round"},
          "encoding": {
            "order": {"field": "p"},
            "color": {"field": "series", "type": "nominal", "legend": null,
              "scale": {"domain": ["Baseline","Higher legume","Higher crop diversity","Higher crop diversity + legumes","Lower intensity"],
                        "range": ["#000000","#000000","#7f7f7f","#3a3a3a","#7f7f7f"]}},
            "strokeDash": {"field": "series", "type": "nominal", "legend": null,
              "scale": {"domain": ["Baseline","Higher legume","Higher crop diversity","Higher crop diversity + legumes","Lower intensity"],
                        "range": [[1,0],[16,8],[8,5],[16,8],[3,4]]}},
            "strokeWidth": {"field": "series", "type": "nominal", "legend": null,
              "scale": {"type": "ordinal", "domain": ["Baseline","Higher legume","Higher crop diversity","Higher crop diversity + legumes","Lower intensity"],
                        "range": [3.5,3.5,3,4,3.5]}}
          }
        },
        {
          "transform": [{"filter": "datum.kind === 'curve' && datum.series === 'Higher crop diversity + legumes'"}],
          "mark": {"type": "line", "interpolate": "monotone", "color": "#d4d4d4", "strokeWidth": 1.5, "strokeDash": [16, 8]},
          "encoding": {"order": {"field": "p"}}
        },
        {
          "transform": [{"filter": "datum.kind === 'median'"}],
          "mark": {"type": "point", "shape": "circle", "filled": true, "size": 60, "strokeWidth": 1, "opacity": 1},
          "encoding": {
            "fill": {"field": "kind", "type": "nominal", "legend": null, "scale": {"domain": ["median","average"], "range": ["#000000","transparent"]}},
            "stroke": {"field": "kind", "type": "nominal", "legend": null, "scale": {"domain": ["median","average"], "range": ["#000000","#ff0000"]}}
          }
        },
        {
          "transform": [{"filter": "datum.kind === 'average'"}],
          "mark": {"type": "point", "shape": "circle", "filled": true, "size": 90, "strokeWidth": 2, "opacity": 1},
          "encoding": {
            "fill": {"field": "kind", "type": "nominal", "legend": null, "scale": {"domain": ["median","average"], "range": ["#000000","transparent"]}},
            "stroke": {"field": "kind", "type": "nominal", "legend": null, "scale": {"domain": ["median","average"], "range": ["#000000","#ff0000"]}}
          }
        }
      ]
    }
  ],
  "config": {
    "view": {"stroke": null},
    "font": "Lato",
    "axis": {
      "grid": true, "gridColor": "#d9d9d9", "gridWidth": 1, "ticks": false,
      "labelFont": "Lato", "labelFontSize": 9, "labelColor": "#595959",
      "titleFont": "Lato", "titleFontSize": 12, "titleFontWeight": "normal", "titleColor": "#404040",
      "domainColor": "#595959"
    },
    "axisX": {"domainWidth": 2, "labelPadding": 8, "titlePadding": 9, "labelFlush": false},
    "axisY": {"domainWidth": 1.5, "labelPadding": 7, "titlePadding": 5, "titleFont": "DejaVu Sans", "titleFontSize": 9.5},
    "title": {"font": "Lato", "fontSize": 13, "fontWeight": "normal", "color": "#262626", "anchor": "middle", "dx": -16, "offset": 10}
  }
}
